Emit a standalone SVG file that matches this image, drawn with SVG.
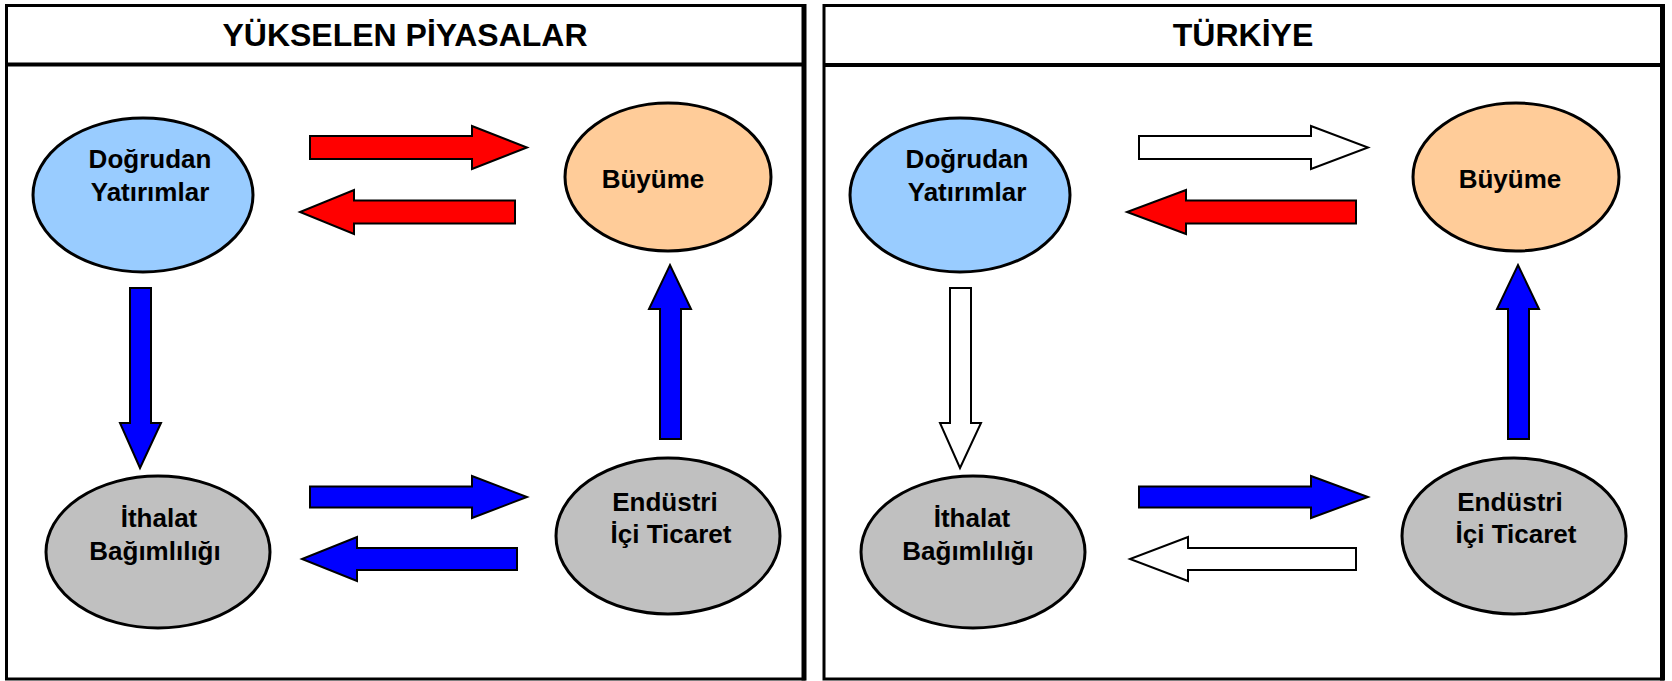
<svg xmlns="http://www.w3.org/2000/svg" width="1672" height="681" viewBox="0 0 1672 681">
<style>
.panel{fill:#FFFFFF;stroke:#000000;stroke-width:3}
.sep{stroke:#000000;stroke-width:4}
.edge{stroke:#000000;stroke-width:5}
.title{font-family:"Liberation Sans",Arial,sans-serif;font-weight:bold;font-size:32px;fill:#000000;text-anchor:middle}
.lbl{font-family:"Liberation Sans",Arial,sans-serif;font-weight:bold;font-size:26px;fill:#000000;text-anchor:middle}
.node{stroke:#000000;stroke-width:3}
.blue-n{fill:#99CCFF}
.orange-n{fill:#FFCC99}
.gray-n{fill:#C0C0C0}
.arr{stroke:#000000;stroke-width:2;stroke-linejoin:miter}
.red{fill:#FF0000}
.blue{fill:#0000FF}
.white{fill:#FFFFFF}
</style>
<rect width="1672" height="681" fill="#FFFFFF"/>
<g id="panel-left">
<rect class="panel" x="6.5" y="5.5" width="797.5" height="673.5"/>
<line class="edge" x1="804" y1="4" x2="804" y2="680.5"/>
<line class="sep" x1="6.5" y1="64.5" x2="804" y2="64.5"/>
<text class="title" x="405" y="46">YÜKSELEN PİYASALAR</text>
</g>
<g id="panel-right">
<rect class="panel" x="824" y="5.5" width="838.5" height="673.5"/>
<line class="edge" x1="1662.5" y1="4" x2="1662.5" y2="680.5"/>
<line class="sep" x1="824" y1="65" x2="1662.5" y2="65"/>
<text class="title" x="1243" y="46">TÜRKİYE</text>
</g>
<g id="connectors">
<polygon class="arr red" points="310,136 472,136 472,126 527,147.5 472,169 472,159 310,159"/>
<polygon class="arr red" points="515,200.5 354,200.5 354,190 300,212 354,234 354,223.5 515,223.5"/>
<polygon class="arr blue" points="130,288 151,288 151,423 161,423 140,468 120,423 130,423"/>
<polygon class="arr blue" points="660,439 681,439 681,309 691,309 670,265 649,309 660,309"/>
<polygon class="arr blue" points="310,486.5 472,486.5 472,476 527,497 472,518 472,507.5 310,507.5"/>
<polygon class="arr blue" points="517,548 357,548 357,537 302,559 357,581 357,570 517,570"/>
<polygon class="arr white" points="1139,136 1311,136 1311,126 1368,147.5 1311,169 1311,159 1139,159"/>
<polygon class="arr red" points="1356,200.5 1186,200.5 1186,190 1127,212 1186,234 1186,223.5 1356,223.5"/>
<polygon class="arr white" points="950,288 971,288 971,423 981,423 960,468 940,423 950,423"/>
<polygon class="arr blue" points="1508,439 1529,439 1529,309 1539,309 1518,265 1497,309 1508,309"/>
<polygon class="arr blue" points="1139,486.5 1311,486.5 1311,476 1368,497 1311,518 1311,507.5 1139,507.5"/>
<polygon class="arr white" points="1356,548 1188,548 1188,537 1130,559 1188,581 1188,570 1356,570"/>
</g>
<g id="node-l-dogrudan">
<ellipse class="node blue-n" cx="143" cy="195" rx="110" ry="77"/>
<text class="lbl" x="150" y="168">Doğrudan</text>
<text class="lbl" x="150" y="201">Yatırımlar</text>
</g>
<g id="node-l-buyume">
<ellipse class="node orange-n" cx="668" cy="177" rx="103" ry="74"/>
<text class="lbl" x="653" y="188">Büyüme</text>
</g>
<g id="node-l-ithalat">
<ellipse class="node gray-n" cx="158" cy="552" rx="112" ry="76"/>
<text class="lbl" x="159" y="527">İthalat</text>
<text class="lbl" x="155" y="560">Bağımlılığı</text>
</g>
<g id="node-l-endustri">
<ellipse class="node gray-n" cx="668" cy="536" rx="112" ry="78"/>
<text class="lbl" x="665" y="511">Endüstri</text>
<text class="lbl" x="671" y="543">İçi Ticaret</text>
</g>
<g id="node-r-dogrudan">
<ellipse class="node blue-n" cx="960" cy="195" rx="110" ry="77"/>
<text class="lbl" x="967" y="168">Doğrudan</text>
<text class="lbl" x="967" y="201">Yatırımlar</text>
</g>
<g id="node-r-buyume">
<ellipse class="node orange-n" cx="1516" cy="177" rx="103" ry="74"/>
<text class="lbl" x="1510" y="188">Büyüme</text>
</g>
<g id="node-r-ithalat">
<ellipse class="node gray-n" cx="973" cy="552" rx="112" ry="76"/>
<text class="lbl" x="972" y="527">İthalat</text>
<text class="lbl" x="968" y="560">Bağımlılığı</text>
</g>
<g id="node-r-endustri">
<ellipse class="node gray-n" cx="1514" cy="536" rx="112" ry="78"/>
<text class="lbl" x="1510" y="511">Endüstri</text>
<text class="lbl" x="1516" y="543">İçi Ticaret</text>
</g>
</svg>
